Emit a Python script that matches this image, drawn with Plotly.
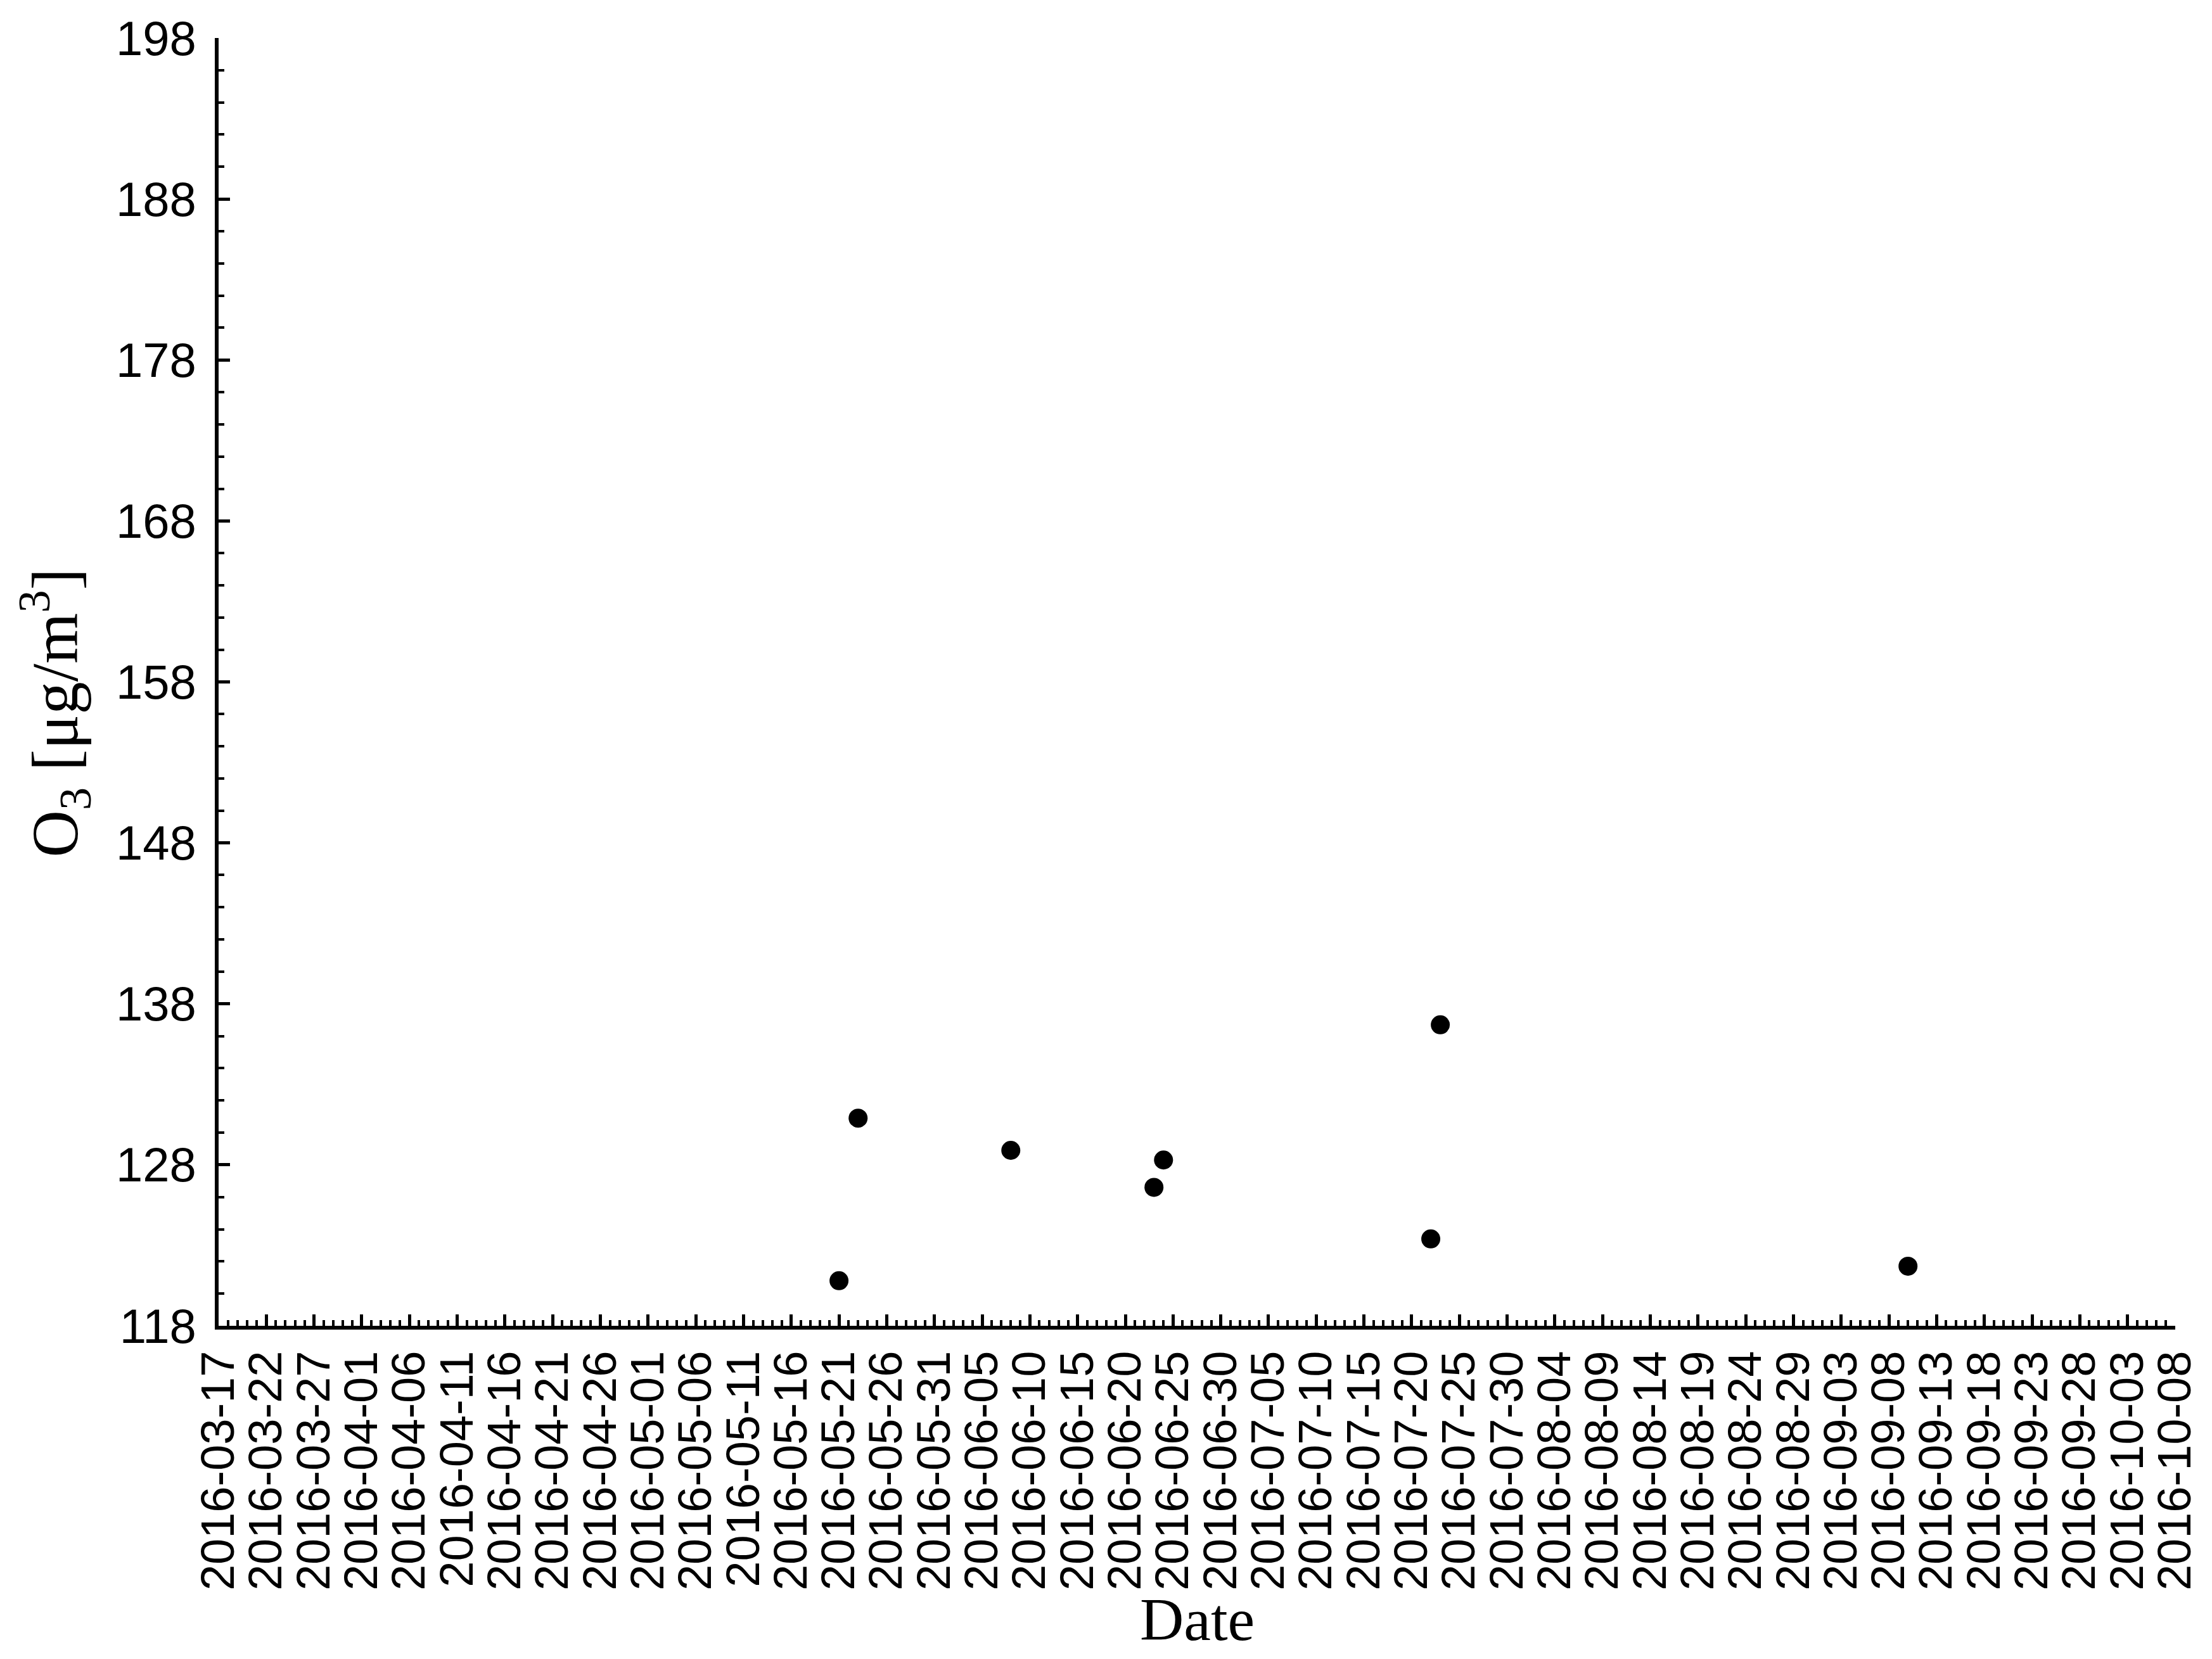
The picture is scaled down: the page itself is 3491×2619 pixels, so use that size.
import plotly.graph_objects as go

dates = ["2016-05-21", "2016-05-23", "2016-06-08", "2016-06-23", "2016-06-24",
         "2016-07-22", "2016-07-23", "2016-09-10"]
o3 = [120.8, 130.9, 128.9, 126.6, 128.3, 123.4, 136.7, 121.7]

x_range = ["2016-03-17", "2016-10-08"]
y_range = [118, 198]
y_ticks = [118, 128, 138, 148, 158, 168, 178, 188, 198]

x_title = "Date"
y_title = "O<sub>3</sub> [μg/m<sup>3</sup>]"

DAY = 86400000

fig = go.Figure()
fig.add_trace(go.Scatter(
    x=dates, y=o3, mode="markers",
    marker=dict(color="black", size=30, line=dict(width=0)),
    showlegend=False,
))

fig.update_layout(
    width=3491, height=2619,
    paper_bgcolor="white", plot_bgcolor="white",
    margin=dict(l=337, r=66, t=52, b=534),
    font=dict(family="Liberation Sans, Arial", color="black"),
)

fig.update_xaxes(
    type="date", range=x_range, automargin=False,
    tick0=x_range[0], dtick=5 * DAY, tickformat="%Y-%m-%d",
    tickangle=-90, ticklabelstandoff=4,
    tickfont=dict(family="Liberation Sans, Arial", size=74, color="black"),
    ticks="inside", ticklen=18, tickwidth=5, tickcolor="black",
    minor=dict(dtick=DAY, tick0=x_range[0], ticks="inside", ticklen=9, tickwidth=4, tickcolor="black", showgrid=False),
    showline=True, linewidth=6, linecolor="black", mirror=False,
    showgrid=False, zeroline=False,
)

fig.update_yaxes(
    range=y_range, tickvals=y_ticks, automargin=False,
    ticklabelstandoff=14,
    tickfont=dict(family="Liberation Sans, Arial", size=76, color="black"),
    ticks="inside", ticklen=18, tickwidth=5, tickcolor="black",
    minor=dict(dtick=2, tick0=118, ticks="inside", ticklen=9, tickwidth=4, tickcolor="black", showgrid=False),
    showline=True, linewidth=6, linecolor="black", mirror=False,
    showgrid=False, zeroline=False,
)

fig.add_annotation(
    text=x_title, xref="paper", yref="paper", x=0.5, y=0,
    xanchor="center", yanchor="middle", yshift=-463, showarrow=False,
    font=dict(family="Liberation Serif, Times New Roman", size=96, color="black"),
)
fig.add_annotation(
    text=y_title, xref="paper", yref="paper", x=0, y=0.5,
    xanchor="center", yanchor="middle", xshift=-258, yshift=-49, textangle=-90,
    showarrow=False,
    font=dict(family="Liberation Serif, Times New Roman", size=103, color="black"),
)

fig.write_html("out.html")
